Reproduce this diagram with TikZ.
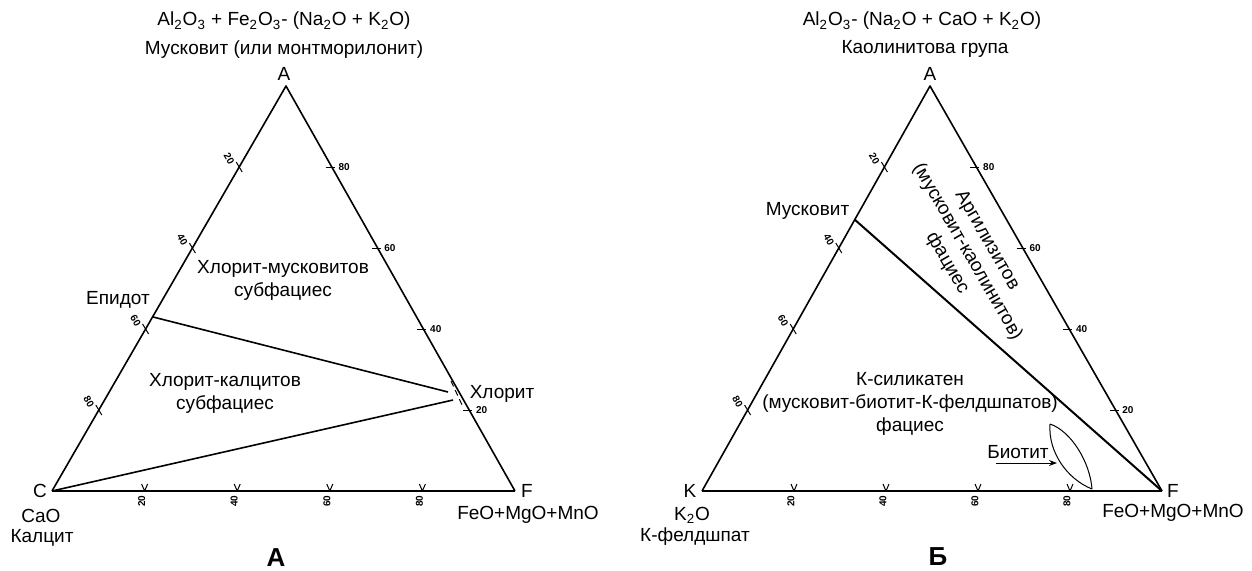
\documentclass[tikz,border=0pt]{standalone}
\usepackage{fontspec}
\setmainfont{Liberation Sans}
\usetikzlibrary{calc,arrows.meta}
\begin{document}
\begin{tikzpicture}[x=0.5pt, y=-0.5pt, line width=0.8pt, line join=round,
    lbl/.style={inner sep=0pt, align=center, font=\fontsize{9.5}{11.5}\selectfont},
    num/.style={inner sep=0pt, font=\fontsize{5}{5}\selectfont\bfseries},
    base/.style={line width=1.3pt},
    thin/.style={line width=0.5pt},
    capt/.style={inner sep=0pt, font=\fontsize{13}{13}\selectfont\bfseries}]
\useasboundingbox (0,0) rectangle (1252,570);

% --- А: left diagram
\coordinate (lA) at (286,86);
\coordinate (lC) at (52,491);
\coordinate (lF) at (515,491);
\draw (lC) -- (lA) -- (lF);
\draw[base] (lC) -- (lF);
\foreach \t/\n/\m in {0.2/20/80, 0.4/40/60, 0.6/60/40, 0.8/80/20} {
  \draw[thin] ($(lA)!\t!(lC)$) ++(-3,-5) -- ++(6,10);
  \draw[thin] ($(lA)!\t!(lF)$) ++(-6,0) -- ++(9,0);
  \draw[thin] ($(lC)!\t!(lF)$) ++(-3,-7) -- ++(3,7) -- ++(3,-7);
  \node[num, rotate=-60] (lL\n) at ($(lA)!\t!(lC)+(-10,-8)$) {\n};
  \node[num, anchor=west] (lR\m) at ($(lA)!\t!(lF)+(6,0)$) {\m};
  \node[num, rotate=90] (lB\n) at ($(lC)!\t!(lF)+(-3,10)$) {\n};
}
\coordinate (ep) at ($(lA)!0.57!(lC)$);
\coordinate (ch1) at (448,392);
\coordinate (ch2) at (453,400);
\draw (ep) -- (ch1);
\draw (lC) -- (ch2);
\coordinate (chT) at (451,381);
\coordinate (chB) at (463,407);
\draw[thin, dash pattern=on 3pt off 2pt] (chT) -- (chB);

\node[lbl] (lh1) at (284,21) {Al\textsubscript{2}O\textsubscript{3} + Fe\textsubscript{2}O\textsubscript{3}- (Na\textsubscript{2}O + K\textsubscript{2}O)};
\node[lbl] (lh2) at (284,50) {Мусковит (или монтморилонит)};
\node[lbl] (lAl) at (284,74) {A};
\node[lbl] (lCl) at (40,491) {C};
\node[lbl] (lCa) at (41,516) {CaO};
\node[lbl] (lKa) at (42,538) {Калцит};
\node[lbl] (lFl) at (527,491) {F};
\node[lbl] (lFe) at (528,515) {FeO+MgO+MnO};
\node[lbl] (epl) at (118,300) {Епидот};
\node[lbl] (chl) at (502,394) {Хлорит};
\node[lbl] (zone1) at (283,280) {Хлорит-мусковитов\\субфациес};
\node[lbl] (zone2) at (225,393) {Хлорит-калцитов\\субфациес};
\node[capt] (capA) at (276,558) {А};

% --- Б: right diagram
\coordinate (rA) at (930,86);
\coordinate (rK) at (702,491);
\coordinate (rF) at (1162,491);
\draw (rK) -- (rA) -- (rF);
\draw[base] (rK) -- (rF);
\foreach \t/\n/\m in {0.2/20/80, 0.4/40/60, 0.6/60/40, 0.8/80/20} {
  \draw[thin] ($(rA)!\t!(rK)$) ++(-3,-5) -- ++(6,10);
  \draw[thin] ($(rA)!\t!(rF)$) ++(-6,0) -- ++(9,0);
  \draw[thin] ($(rK)!\t!(rF)$) ++(-3,-7) -- ++(3,7) -- ++(3,-7);
  \node[num, rotate=-60] (rL\n) at ($(rA)!\t!(rK)+(-10,-8)$) {\n};
  \node[num, anchor=west] (rR\m) at ($(rA)!\t!(rF)+(6,0)$) {\m};
  \node[num, rotate=90] (rB\n) at ($(rK)!\t!(rF)+(-3,10)$) {\n};
}
\coordinate (mu) at ($(rA)!0.33!(rK)$);
\draw[line width=1pt] (mu) -- (rF);
% biotite lens
\coordinate (btT) at (1050,424);
\coordinate (btB) at (1092,489);
\draw[thin] (btT) .. controls (1048,452) and (1067,479) .. (btB)
  .. controls (1090,462) and (1071,431) .. (btT);
\node[lbl] (bio) at (1018,452) {Биотит};
\coordinate (bs) at (996,463);
\coordinate (be) at (1057,463);
\draw[thin, -{Stealth[length=4pt,width=3pt]}] (bs) -- (be);

\node[lbl] (rh1) at (922,21) {Al\textsubscript{2}O\textsubscript{3}- (Na\textsubscript{2}O + CaO + K\textsubscript{2}O)};
\node[lbl] (rh2) at (925,49) {Каолинитова група};
\node[lbl] (rAl) at (930,74) {A};
\node[lbl] (rKl) at (690,491) {K};
\node[lbl] (rK2) at (692,515) {K\textsubscript{2}O};
\node[lbl] (rKf) at (695,537) {К-фелдшпат};
\node[lbl] (rFl) at (1173,491) {F};
\node[lbl] (rFe) at (1173,513) {FeO+MgO+MnO};
\node[lbl, anchor=east] (mul) at (850,211) {Мусковит};
\node[lbl, rotate=-60] (arg) at (967,252) {Аргилизитов\\(мусковит-каолинитов)\\фациес};
\node[lbl] (zone3) at (910,404) {К-силикатен\\(мусковит-биотит-К-фелдшпатов)\\фациес};
\node[capt] (capB) at (938,557) {Б};
\end{tikzpicture}
\end{document}
